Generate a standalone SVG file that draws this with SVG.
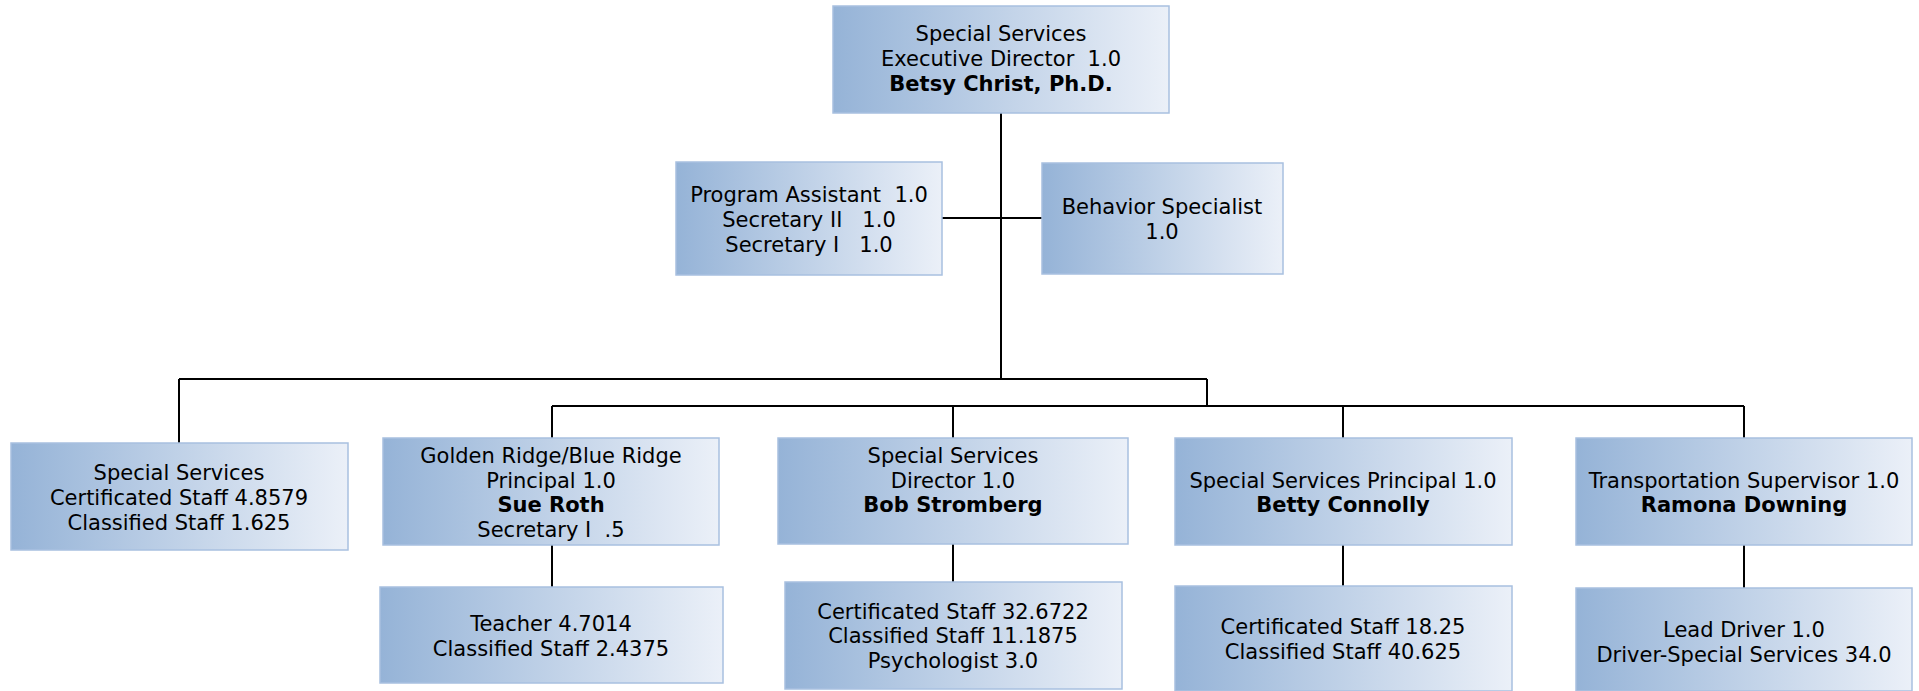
<svg xmlns="http://www.w3.org/2000/svg" width="1919" height="691" viewBox="0 0 1919 691" xml:space="preserve">
<defs>
<linearGradient id="g" x1="0" y1="0" x2="1" y2="0">
<stop offset="0" stop-color="#95b3d7"/>
<stop offset="1" stop-color="#ebf0f8"/>
</linearGradient>
<style>
.box{fill:url(#g);stroke:#a8c0e0;stroke-width:1.5}
text{font-family:"DejaVu Sans",Verdana,sans-serif;font-size:21px;fill:#000;text-anchor:middle;white-space:pre}
.b{font-weight:bold}
.c{stroke:#000;stroke-width:2;fill:none}
</style>
</defs>
<rect width="1919" height="691" fill="#fff"/>
<g id="connectors">
<path class="c" d="M1001 113V379"/>
<path class="c" d="M942 218H1042"/>
<path class="c" d="M179 379H1207"/>
<path class="c" d="M179 379V443"/>
<path class="c" d="M1207 379V406"/>
<path class="c" d="M552 406H1744"/>
<path class="c" d="M552 406V438M953 406V438M1343 406V438M1744 406V438"/>
<path class="c" d="M552 545V587M953 544V582M1343 545V586M1744 545V588"/>
</g>
<g id="exec">
<rect class="box" x="833" y="6" width="336" height="107"/>
<text x="1001" y="41">Special Services</text>
<text x="1001" y="66">Executive Director  1.0</text>
<text x="1001" y="91" class="b">Betsy Christ, Ph.D.</text>
</g>
<g id="assistant">
<rect class="box" x="676" y="162" width="266" height="113"/>
<text x="809" y="202">Program Assistant  1.0</text>
<text x="809" y="227">Secretary II   1.0</text>
<text x="809" y="252">Secretary I   1.0</text>
</g>
<g id="behavior">
<rect class="box" x="1042" y="163" width="241" height="111"/>
<text x="1162" y="214">Behavior Specialist</text>
<text x="1162" y="239">1.0</text>
</g>
<g id="ss-staff">
<rect class="box" x="11" y="443" width="337" height="107"/>
<text x="179" y="480">Special Services</text>
<text x="179" y="505">Certificated Staff 4.8579</text>
<text x="179" y="530">Classified Staff 1.625</text>
</g>
<g id="golden">
<rect class="box" x="383" y="438" width="336" height="107"/>
<text x="551" y="463">Golden Ridge/Blue Ridge</text>
<text x="551" y="488">Principal 1.0</text>
<text x="551" y="512" class="b">Sue Roth</text>
<text x="551" y="537">Secretary I  .5</text>
</g>
<g id="golden-staff">
<rect class="box" x="380" y="587" width="343" height="96"/>
<text x="551" y="631">Teacher 4.7014</text>
<text x="551" y="656">Classified Staff 2.4375</text>
</g>
<g id="director">
<rect class="box" x="778" y="438" width="350" height="106"/>
<text x="953" y="463">Special Services</text>
<text x="953" y="488">Director 1.0</text>
<text x="953" y="512" class="b">Bob Stromberg</text>
</g>
<g id="director-staff">
<rect class="box" x="785" y="582" width="337" height="107"/>
<text x="953" y="619">Certificated Staff 32.6722</text>
<text x="953" y="643">Classified Staff 11.1875</text>
<text x="953" y="668">Psychologist 3.0</text>
</g>
<g id="principal">
<rect class="box" x="1175" y="438" width="337" height="107"/>
<text x="1343" y="488">Special Services Principal 1.0</text>
<text x="1343" y="512" class="b">Betty Connolly</text>
</g>
<g id="principal-staff">
<rect class="box" x="1175" y="586" width="337" height="105"/>
<text x="1343" y="634">Certificated Staff 18.25</text>
<text x="1343" y="659">Classified Staff 40.625</text>
</g>
<g id="transport">
<rect class="box" x="1576" y="438" width="336" height="107"/>
<text x="1744" y="488">Transportation Supervisor 1.0</text>
<text x="1744" y="512" class="b">Ramona Downing</text>
</g>
<g id="transport-staff">
<rect class="box" x="1576" y="588" width="336" height="103"/>
<text x="1744" y="637">Lead Driver 1.0</text>
<text x="1744" y="662">Driver-Special Services 34.0</text>
</g>
</svg>
